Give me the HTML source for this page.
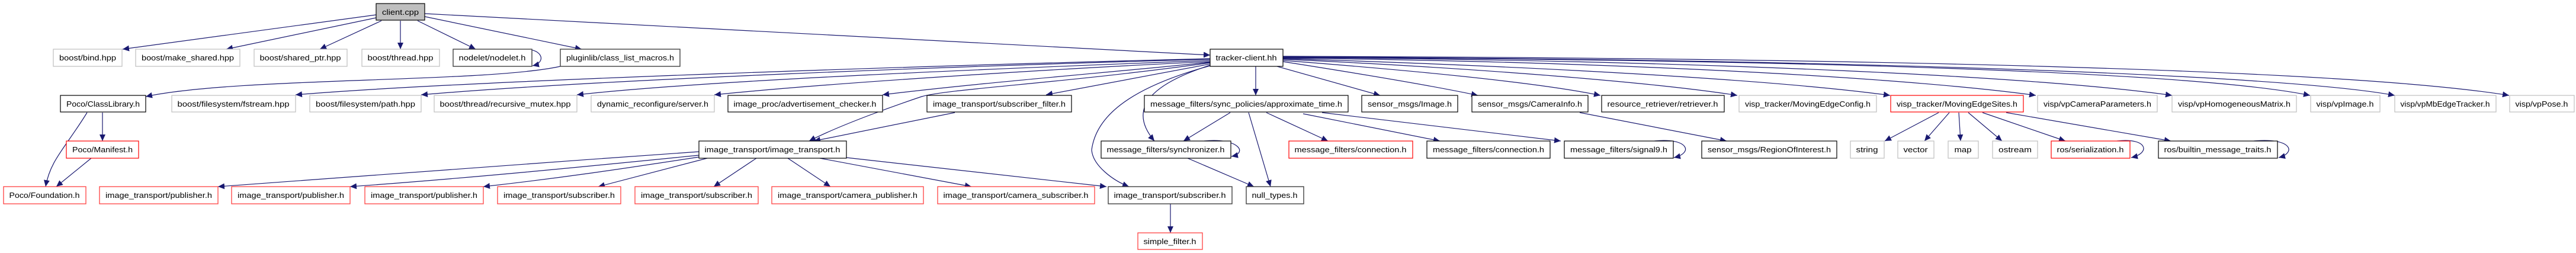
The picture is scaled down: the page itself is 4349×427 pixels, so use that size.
<!DOCTYPE html>
<html><head><meta charset="utf-8"><style>
html,body{margin:0;padding:0;background:#fff;}
svg{display:block;}
text{font-family:"Liberation Sans",sans-serif;font-size:13px;fill:#000;text-anchor:middle;}
.e{fill:none;stroke:#191970;stroke-width:1.2;marker-end:url(#a);}
.g{fill:#fff;stroke:#bfbfbf;stroke-width:1.2;}
.b{fill:#fff;stroke:#000;stroke-width:1.2;}
.d{fill:#fff;stroke:#404040;stroke-width:1.4;}
.r{fill:#fff;stroke:#ff0000;stroke-width:1.2;}
.r2{fill:#fff;stroke:#ff4040;stroke-width:1.3;}
</style></head><body>
<svg width="4349" height="427" viewBox="0 0 4349 427" xmlns="http://www.w3.org/2000/svg">
<defs><marker id="a" markerUnits="userSpaceOnUse" markerWidth="12" markerHeight="10" refX="11" refY="5" orient="auto"><path d="M0,0 L11,5 L0,10 z" fill="#191970"/></marker></defs>

<g>
<path class="e" d="M635,25 L207,83"/>
<path class="e" d="M635,30 L382,83"/>
<path class="e" d="M644,35 L540,83"/>
<path class="e" d="M676,35 L676,83"/>
<path class="e" d="M705,35 L803,83"/>
<path class="e" d="M717,28 L982,83"/>
<path class="e" d="M717,23 L2043,93"/>
<path class="e" d="M876,84 C915,78 925,105 899,111"/>
<path class="e" d="M946,112 C820,140 400,130 246,163"/>

<path class="e" d="M2043,99 C1600,110 800,135 499,160"/>
<path class="e" d="M2043,100 C1600,112 1000,135 711,160"/>
<path class="e" d="M2043,102 C1700,115 1200,135 974,160"/>
<path class="e" d="M2043,104 C1800,115 1400,140 1206,160"/>
<path class="e" d="M2043,105 C1900,120 1650,140 1490,160"/>
<path class="e" d="M2043,108 L1766,160"/>
<path class="e" d="M2043,106 C1800,140 1600,150 1556,163 C1520,175 1420,210 1366,238"/>
<path class="e" d="M2120,112 L2120,161"/>
<path class="e" d="M2043,110 C1950,140 1900,180 1949,238"/>
<path class="e" d="M2043,111 C1900,150 1850,200 1843,253 C1845,280 1880,305 1906,315"/>
<path class="e" d="M2156,112 L2330,161"/>
<path class="e" d="M2166,104 C2300,125 2420,145 2495,161"/>
<path class="e" d="M2166,102 C2400,120 2600,140 2702,161"/>
<path class="e" d="M2166,100 C2500,115 2800,140 2933,161"/>
<path class="e" d="M2166,99 C2600,112 3000,135 3191,161"/>
<path class="e" d="M2166,98 C2800,105 3250,135 3437,161"/>
<path class="e" d="M2166,97 C2900,102 3450,130 3667,161"/>
<path class="e" d="M2166,97 C3000,100 3700,120 3900,161"/>
<path class="e" d="M2166,96 C3100,100 3850,125 4043,161"/>
<path class="e" d="M2166,95 C3100,98 3950,115 4236,161"/>

<path class="e" d="M173,190 L173,238"/>
<path class="e" d="M147,190 C110,250 85,270 77,315"/>
<path class="e" d="M154,267 L95,315"/>
<path class="e" d="M1612,190 L1374,238"/>

<path class="e" d="M1180,256 C900,275 600,300 368,315"/>
<path class="e" d="M1180,262 C1000,280 800,300 591,315"/>
<path class="e" d="M1180,265 C1050,285 950,300 816,315"/>
<path class="e" d="M1194,267 L1010,315"/>
<path class="e" d="M1277,267 L1205,315"/>
<path class="e" d="M1330,267 L1402,315"/>
<path class="e" d="M1384,267 L1640,315"/>
<path class="e" d="M1429,266 L1868,315"/>

<path class="e" d="M2077,190 L1998,238"/>
<path class="e" d="M2108,190 L2145,315"/>
<path class="e" d="M2138,190 L2242,238"/>
<path class="e" d="M2200,192 L2431,238"/>
<path class="e" d="M2232,190 L2635,238"/>
<path class="e" d="M2005,267 L2117,315"/>
<path class="e" d="M2033,238 C2090,232 2108,258 2079,264"/>
<path class="e" d="M2793,238 C2850,232 2860,258 2826,266"/>
<path class="e" d="M2667,190 L2915,238"/>
<path class="e" d="M1976,344 L1976,393"/>

<path class="e" d="M3273,190 L3182,238"/>
<path class="e" d="M3291,190 L3249,238"/>
<path class="e" d="M3307,190 L3310,238"/>
<path class="e" d="M3323,190 L3380,238"/>
<path class="e" d="M3347,190 L3487,238"/>
<path class="e" d="M3387,190 L3665,238"/>
<path class="e" d="M3574,238 C3625,232 3632,258 3598,266"/>
<path class="e" d="M3805,238 C3870,232 3877,258 3847,266"/>
</g>

<g>
<rect x="635" y="6" width="82" height="28" fill="#bfbfbf" stroke="#000" stroke-width="1.2"/><text x="676" y="25" textLength="62" lengthAdjust="spacingAndGlyphs">client.cpp</text>

<rect class="g" x="90" y="83" width="116" height="29"/><text x="148" y="102" textLength="96" lengthAdjust="spacingAndGlyphs">boost/bind.hpp</text>
<rect class="g" x="229" y="83" width="176" height="29"/><text x="317" y="102" textLength="156" lengthAdjust="spacingAndGlyphs">boost/make_shared.hpp</text>
<rect class="g" x="429" y="83" width="157" height="29"/><text x="507" y="102" textLength="137" lengthAdjust="spacingAndGlyphs">boost/shared_ptr.hpp</text>
<rect class="g" x="611" y="83" width="131" height="29"/><text x="676" y="102" textLength="111" lengthAdjust="spacingAndGlyphs">boost/thread.hpp</text>
<rect class="d" x="765" y="83" width="133" height="29"/><text x="831" y="102" textLength="113" lengthAdjust="spacingAndGlyphs">nodelet/nodelet.h</text>
<rect class="d" x="946" y="83" width="202" height="29"/><text x="1047" y="102" textLength="182" lengthAdjust="spacingAndGlyphs">pluginlib/class_list_macros.h</text>
<rect class="b" x="2043" y="83" width="123" height="29"/><text x="2104" y="102" textLength="103" lengthAdjust="spacingAndGlyphs">tracker-client.hh</text>

<rect class="b" x="102" y="161" width="144" height="28"/><text x="174" y="180" textLength="124" lengthAdjust="spacingAndGlyphs">Poco/ClassLibrary.h</text>
<rect class="g" x="290" y="161" width="209" height="28"/><text x="394" y="180" textLength="189" lengthAdjust="spacingAndGlyphs">boost/filesystem/fstream.hpp</text>
<rect class="g" x="523" y="161" width="188" height="28"/><text x="617" y="180" textLength="168" lengthAdjust="spacingAndGlyphs">boost/filesystem/path.hpp</text>
<rect class="g" x="733" y="161" width="241" height="28"/><text x="853" y="180" textLength="221" lengthAdjust="spacingAndGlyphs">boost/thread/recursive_mutex.hpp</text>
<rect class="g" x="998" y="161" width="208" height="28"/><text x="1102" y="180" textLength="188" lengthAdjust="spacingAndGlyphs">dynamic_reconfigure/server.h</text>
<rect class="b" x="1229" y="161" width="261" height="28"/><text x="1359" y="180" textLength="241" lengthAdjust="spacingAndGlyphs">image_proc/advertisement_checker.h</text>
<rect class="b" x="1565" y="161" width="244" height="28"/><text x="1687" y="180" textLength="224" lengthAdjust="spacingAndGlyphs">image_transport/subscriber_filter.h</text>
<rect class="b" x="1932" y="161" width="344" height="28"/><text x="2104" y="180" textLength="324" lengthAdjust="spacingAndGlyphs">message_filters/sync_policies/approximate_time.h</text>
<rect class="b" x="2299" y="161" width="162" height="28"/><text x="2380" y="180" textLength="142" lengthAdjust="spacingAndGlyphs">sensor_msgs/Image.h</text>
<rect class="b" x="2485" y="161" width="196" height="28"/><text x="2583" y="180" textLength="176" lengthAdjust="spacingAndGlyphs">sensor_msgs/CameraInfo.h</text>
<rect class="b" x="2704" y="161" width="207" height="28"/><text x="2807" y="180" textLength="187" lengthAdjust="spacingAndGlyphs">resource_retriever/retriever.h</text>
<rect class="g" x="2936" y="161" width="232" height="28"/><text x="3052" y="180" textLength="212" lengthAdjust="spacingAndGlyphs">visp_tracker/MovingEdgeConfig.h</text>
<rect class="r" x="3192" y="161" width="224" height="28"/><text x="3304" y="180" textLength="204" lengthAdjust="spacingAndGlyphs">visp_tracker/MovingEdgeSites.h</text>
<rect class="g" x="3440" y="161" width="202" height="28"/><text x="3541" y="180" textLength="182" lengthAdjust="spacingAndGlyphs">visp/vpCameraParameters.h</text>
<rect class="g" x="3667" y="161" width="210" height="28"/><text x="3772" y="180" textLength="190" lengthAdjust="spacingAndGlyphs">visp/vpHomogeneousMatrix.h</text>
<rect class="g" x="3901" y="161" width="117" height="28"/><text x="3959" y="180" textLength="97" lengthAdjust="spacingAndGlyphs">visp/vpImage.h</text>
<rect class="g" x="4043" y="161" width="171" height="28"/><text x="4128" y="180" textLength="151" lengthAdjust="spacingAndGlyphs">visp/vpMbEdgeTracker.h</text>
<rect class="g" x="4237" y="161" width="109" height="28"/><text x="4291" y="180" textLength="89" lengthAdjust="spacingAndGlyphs">visp/vpPose.h</text>

<rect class="r" x="112" y="238" width="122" height="29"/><text x="173" y="257" textLength="102" lengthAdjust="spacingAndGlyphs">Poco/Manifest.h</text>
<rect class="b" x="1180" y="238" width="249" height="29"/><text x="1304" y="257" textLength="229" lengthAdjust="spacingAndGlyphs">image_transport/image_transport.h</text>
<rect class="b" x="1859" y="238" width="219" height="29"/><text x="1968" y="257" textLength="199" lengthAdjust="spacingAndGlyphs">message_filters/synchronizer.h</text>
<rect class="r" x="2176" y="238" width="209" height="29"/><text x="2280" y="257" textLength="189" lengthAdjust="spacingAndGlyphs">message_filters/connection.h</text>
<rect class="b" x="2409" y="238" width="208" height="29"/><text x="2513" y="257" textLength="188" lengthAdjust="spacingAndGlyphs">message_filters/connection.h</text>
<rect class="b" x="2641" y="238" width="184" height="29"/><text x="2733" y="257" textLength="164" lengthAdjust="spacingAndGlyphs">message_filters/signal9.h</text>
<rect class="b" x="2873" y="238" width="228" height="29"/><text x="2987" y="257" textLength="208" lengthAdjust="spacingAndGlyphs">sensor_msgs/RegionOfInterest.h</text>
<rect class="g" x="3124" y="238" width="57" height="29"/><text x="3152" y="257" textLength="37" lengthAdjust="spacingAndGlyphs">string</text>
<rect class="g" x="3204" y="238" width="61" height="29"/><text x="3234" y="257" textLength="41" lengthAdjust="spacingAndGlyphs">vector</text>
<rect class="g" x="3289" y="238" width="51" height="29"/><text x="3314" y="257" textLength="29" lengthAdjust="spacingAndGlyphs">map</text>
<rect class="g" x="3364" y="238" width="76" height="29"/><text x="3402" y="257" textLength="56" lengthAdjust="spacingAndGlyphs">ostream</text>
<rect class="r" x="3463" y="238" width="133" height="29"/><text x="3529" y="257" textLength="113" lengthAdjust="spacingAndGlyphs">ros/serialization.h</text>
<rect class="b" x="3644" y="238" width="201" height="29"/><text x="3744" y="257" textLength="181" lengthAdjust="spacingAndGlyphs">ros/builtin_message_traits.h</text>

<rect class="r2" x="6" y="315" width="139" height="29"/><text x="75" y="334" textLength="119" lengthAdjust="spacingAndGlyphs">Poco/Foundation.h</text>
<rect class="r2" x="168" y="315" width="200" height="29"/><text x="268" y="334" textLength="180" lengthAdjust="spacingAndGlyphs">image_transport/publisher.h</text>
<rect class="r2" x="391" y="315" width="200" height="29"/><text x="491" y="334" textLength="180" lengthAdjust="spacingAndGlyphs">image_transport/publisher.h</text>
<rect class="r2" x="616" y="315" width="200" height="29"/><text x="716" y="334" textLength="180" lengthAdjust="spacingAndGlyphs">image_transport/publisher.h</text>
<rect class="r2" x="840" y="315" width="208" height="29"/><text x="944" y="334" textLength="188" lengthAdjust="spacingAndGlyphs">image_transport/subscriber.h</text>
<rect class="r2" x="1072" y="315" width="208" height="29"/><text x="1176" y="334" textLength="188" lengthAdjust="spacingAndGlyphs">image_transport/subscriber.h</text>
<rect class="r2" x="1303" y="315" width="256" height="29"/><text x="1431" y="334" textLength="236" lengthAdjust="spacingAndGlyphs">image_transport/camera_publisher.h</text>
<rect class="r2" x="1583" y="315" width="265" height="29"/><text x="1715" y="334" textLength="245" lengthAdjust="spacingAndGlyphs">image_transport/camera_subscriber.h</text>
<rect class="d" x="1871" y="315" width="209" height="29"/><text x="1975" y="334" textLength="189" lengthAdjust="spacingAndGlyphs">image_transport/subscriber.h</text>
<rect class="d" x="2104" y="315" width="97" height="29"/><text x="2152" y="334" textLength="77" lengthAdjust="spacingAndGlyphs">null_types.h</text>

<rect class="r2" x="1921" y="393" width="109" height="28"/><text x="1975" y="412" textLength="89" lengthAdjust="spacingAndGlyphs">simple_filter.h</text>
</g>
</svg>
</body></html>
